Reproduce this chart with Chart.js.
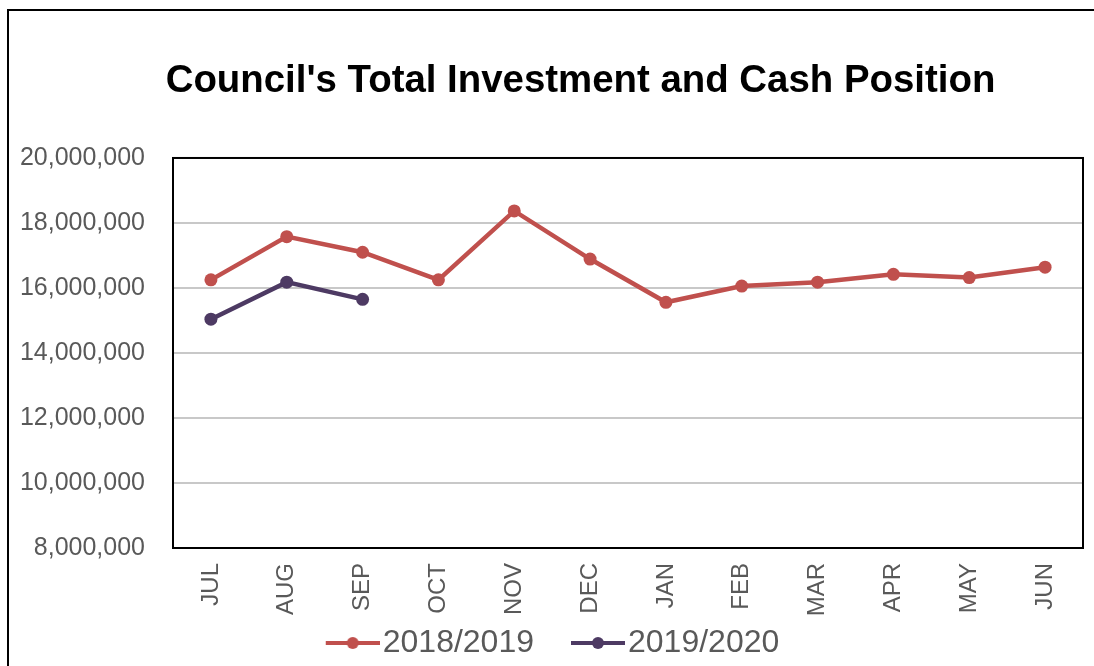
<!DOCTYPE html>
<html>
<head>
<meta charset="utf-8">
<script src="https://cdn.jsdelivr.net/npm/chart.js@4/dist/chart.umd.min.js"></script>
<style>
  html, body { margin: 0; padding: 0; background: #fff; overflow: hidden; }
  #wrap { position: relative; width: 1094px; height: 666px; }
</style>
</head>
<body>
<div id="wrap"><canvas id="c" width="1094" height="666"></canvas></div>
<script>
const categories = ['JUL','AUG','SEP','OCT','NOV','DEC','JAN','FEB','MAR','APR','MAY','JUN'];
const series2018 = [16250000, 17580000, 17100000, 16250000, 18370000, 16890000, 15560000, 16060000, 16180000, 16420000, 16320000, 16640000];
const series2019 = [15040000, 16180000, 15650000];
const seriesNames = ['2018/2019', '2019/2020'];
const seriesColors = ['#C0504D', '#4D3A63'];
const chartTitle = "Council's Total Investment and Cash Position";
const yMin = 8000000, yMax = 20000000, yStep = 2000000;

function legendMarker(color) {
  const cv = document.createElement('canvas');
  cv.width = 89; cv.height = 14;
  const g = cv.getContext('2d');
  g.strokeStyle = color; g.lineWidth = 4; g.lineCap = 'butt';
  g.beginPath(); g.moveTo(35, 7); g.lineTo(89, 7); g.stroke();
  g.fillStyle = color;
  g.beginPath(); g.arc(62, 7, 6, 0, Math.PI * 2); g.fill();
  return cv;
}
const markers = seriesColors.map(legendMarker);

const framePlugin = {
  id: 'frame',
  beforeDraw(chart) {
    const ctx = chart.ctx;
    ctx.save();
    ctx.fillStyle = '#fff';
    ctx.fillRect(0, 0, chart.width, chart.height);
    ctx.strokeStyle = '#000';
    ctx.lineWidth = 2;
    ctx.strokeRect(8, 10, 1300, 900);
    ctx.restore();
  },
  afterLayout(chart) {
    if (chart.titleBlock) { chart.titleBlock.left += 78; }
    if (chart.scales.x) { chart.scales.x.bottom = chart.height; }
    if (chart.legend) { chart.legend.top += 3; chart.legend.bottom += 3; }
  },
  beforeDatasetsDraw(chart) {
    const a = chart.chartArea, ctx = chart.ctx;
    ctx.save();
    ctx.strokeStyle = '#000';
    ctx.lineWidth = 2;
    ctx.strokeRect(a.left, a.top, a.right - a.left, a.bottom - a.top);
    ctx.restore();
  }
};

new Chart(document.getElementById('c'), {
  type: 'line',
  data: {
    labels: categories,
    datasets: [
      { label: seriesNames[0], data: series2018, borderColor: seriesColors[0], backgroundColor: seriesColors[0],
        borderWidth: 4.5, pointRadius: 6.5, pointHoverRadius: 6.5, pointBackgroundColor: seriesColors[0], pointBorderWidth: 0, tension: 0, pointStyle: 'circle' },
      { label: seriesNames[1], data: series2019, borderColor: seriesColors[1], backgroundColor: seriesColors[1],
        borderWidth: 4.5, pointRadius: 6.5, pointHoverRadius: 6.5, pointBackgroundColor: seriesColors[1], pointBorderWidth: 0, tension: 0, pointStyle: 'circle' }
    ]
  },
  options: {
    responsive: false,
    animation: false,
    devicePixelRatio: 1,
    layout: { padding: { left: 0, right: 11, top: 0, bottom: 0 } },
    plugins: {
      tooltip: { enabled: false },
      title: {
        display: true,
        text: chartTitle,
        color: '#000',
        font: { family: '"Liberation Sans", Arial, sans-serif', size: 38.4, weight: 'bold', lineHeight: 1.2 },
        padding: { top: 58, bottom: 53.9 }
      },
      legend: {
        display: true,
        position: 'bottom',
        labels: {
          color: '#595959',
          font: { family: '"Liberation Sans", Arial, sans-serif', size: 32 },
          usePointStyle: true,
          pointStyleWidth: 63,
          padding: 15,
          generateLabels(chart) {
            return chart.data.datasets.map((ds, i) => ({
              text: ds.label,
              fillStyle: ds.borderColor,
              strokeStyle: ds.borderColor,
              lineWidth: 0,
              pointStyle: markers[i],
              fontColor: '#595959',
              hidden: false,
              datasetIndex: i
            }));
          }
        }
      }
    },
    scales: {
      x: {
        offset: true,
        grid: { display: false, drawTicks: false },
        border: { display: false },
        ticks: {
          color: '#595959',
          font: { family: '"Liberation Sans", Arial, sans-serif', size: 24 },
          minRotation: 90, maxRotation: 90,
          padding: 15
        },
        afterFit(scale) { scale.height = 61; }
      },
      y: {
        min: yMin, max: yMax,
        grid: { color: '#C8C8C8', lineWidth: 2, drawTicks: false },
        border: { display: false },
        ticks: {
          stepSize: yStep,
          color: '#595959',
          font: { family: '"Liberation Sans", Arial, sans-serif', size: 25 },
          padding: 28,
          callback: v => Number(v).toLocaleString('en-US')
        },
        afterFit(scale) { scale.width = 173; }
      }
    }
  },
  plugins: [framePlugin]
});
</script>
</body>
</html>
